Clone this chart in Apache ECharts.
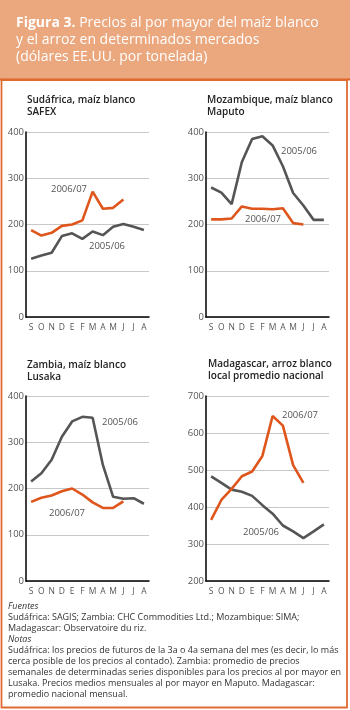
<!DOCTYPE html>
<html><head><meta charset="utf-8">
<script src="https://cdn.jsdelivr.net/npm/echarts@6/dist/echarts.min.js"></script>
<style>html,body{margin:0;padding:0;background:#fff}#c{width:350px;height:710px}</style>
</head><body><div id="c"></div>
<script>
const months = ['S','O','N','D','E','F','M','A','M','J','J','A'];
const yTicksMaize = [0,100,200,300,400];
const yTicksRice = [200,300,400,500,600,700];

const saf0506 = [126,133,139,175,181,169,185,177,195,201,195,188];
const saf0607 = [188,176,182,197,200,209,271,234,236,254];
const moz0506 = [280,269,244,335,385,391,371,326,268,241,210,210];
const moz0607 = [211,211,213,239,234,234,233,235,203,200];
const zam0506 = [215,233,262,312,345,355,353,251,182,178,179,167];
const zam0607 = [171,180,185,194,200,187,170,158,158,172];
const mad0506 = [483,465,447,441,430,405,382,350,334,316,334,353];
const mad0607 = [365,419,449,483,496,538,646,620,513,465];

const panelTitles = [
  ['Sudáfrica, maíz blanco','SAFEX'],
  ['Mozambique, maíz blanco','Maputo'],
  ['Zambia, maíz blanco','Lusaka'],
  ['Madagascar, arroz blanco','local promedio nacional']
];

const ORANGE = '#df561d', GREY = '#555555';
const FONT = '"Open Sans", "Noto Sans", sans-serif';

const grids = [
  {left:26, top:132, width:123, height:185},
  {left:206, top:132, width:123, height:185},
  {left:26, top:396, width:123, height:185},
  {left:206, top:396, width:123, height:185}
];
const yRanges = [
  {min:yTicksMaize[0], max:yTicksMaize[yTicksMaize.length-1]},
  {min:yTicksMaize[0], max:yTicksMaize[yTicksMaize.length-1]},
  {min:yTicksMaize[0], max:yTicksMaize[yTicksMaize.length-1]},
  {min:yTicksRice[0], max:yTicksRice[yTicksRice.length-1]}
];
const seriesData = [[saf0506,saf0607],[moz0506,moz0607],[zam0506,zam0607],[mad0506,mad0607]];

const xAxis = grids.map((g,i)=>({
  type:'category', gridIndex:i, data:months, boundaryGap:true,
  axisLine:{lineStyle:{color:'#000',width:1.5}},
  axisTick:{inside:true, alignWithLabel:true, length:4, lineStyle:{color:'#000',width:1.2}},
  axisLabel:{fontSize:8.5, color:'#555', margin:6, fontFamily:FONT, interval:0}
}));
const yAxis = grids.map((g,i)=>({
  type:'value', gridIndex:i, min:yRanges[i].min, max:yRanges[i].max, interval:100,
  axisLine:{show:true, lineStyle:{color:'#000',width:1.5}},
  axisTick:{show:false},
  splitLine:{lineStyle:{color:'#c8c8c8',width:1}},
  axisLabel:{fontSize:9.5, color:'#555', margin:2, fontFamily:FONT}
}));
const series = [];
seriesData.forEach((pair,i)=>{
  series.push({type:'line', xAxisIndex:i, yAxisIndex:i, data:pair[0], symbol:'none',
    lineStyle:{color:GREY,width:2.6}, z:3, silent:true});
  series.push({type:'line', xAxisIndex:i, yAxisIndex:i, data:pair[1], symbol:'none',
    lineStyle:{color:ORANGE,width:2.6}, z:4, silent:true});
});

const graphic = [
  {type:'rect', shape:{x:0,y:0,width:350,height:79}, style:{fill:'#eba77d'}, z:0},
  {type:'rect', shape:{x:0,y:78.5,width:350,height:2}, style:{fill:'#df6128'}, z:1},
  {type:'rect', shape:{x:1.5,y:80,width:345.5,height:627.5}, style:{fill:'none',stroke:'#e06a30',lineWidth:1.8}, z:1},
  {type:'text', x:16, y:15, z:5, style:{
    text:'{b|Figura 3.} Precios al por mayor del maíz blanco\ny el arroz en determinados mercados\n(dólares EE.UU. por tonelada)',
    fill:'#fff', font:'14px '+FONT, lineHeight:16.8,
    rich:{b:{fontWeight:'bold', fill:'#fff', fontSize:14, fontFamily:FONT}}
  }}
];
const titlePos = [[27,94],[207,94],[27,359],[208,358]];
panelTitles.forEach((t,i)=>{
  graphic.push({type:'text', x:titlePos[i][0], y:titlePos[i][1], z:5, style:{
    text:t.join('\n'), fill:'#222', font:'600 10px '+FONT, lineHeight:12}});
});
const seriesLabels = [
  ['2006/07',69,189],['2005/06',107,246],
  ['2005/06',299,151],['2006/07',263,219],
  ['2005/06',120,422],['2006/07',67,513],
  ['2006/07',300,415],['2005/06',261,532]
];
seriesLabels.forEach(l=>{
  graphic.push({type:'text', x:l[1], y:l[2], z:5, style:{text:l[0], fill:'#555',
    font:'9.5px '+FONT, textAlign:'center', textVerticalAlign:'middle'}});
});
const footer = [
  ['Fuentes',true],
  ['Sudáfrica: SAGIS; Zambia: CHC Commodities Ltd.; Mozambique: SIMA;',false],
  ['Madagascar: Observatoire du riz.',false],
  ['Notas',true],
  ['Sudáfrica: los precios de futuros de la 3a o 4a semana del mes (es decir, lo más',false],
  ['cerca posible de los precios al contado). Zambia: promedio de precios',false],
  ['semanales de determinadas series disponibles para los precios al por mayor en',false],
  ['Lusaka. Precios medios mensuales al por mayor en Maputo. Madagascar:',false],
  ['promedio nacional mensual.',false]
];
footer.forEach((f,i)=>{
  graphic.push({type:'text', x:8, y:606+i*11.1, z:5, style:{text:f[0], fill:'#333',
    font:(f[1]?'italic ':'')+'9px '+FONT, textVerticalAlign:'middle'}});
});

const chart = echarts.init(document.getElementById('c'), null, {renderer:'canvas'});
chart.setOption({animation:false, grid:grids, xAxis, yAxis, series, graphic});
</script></body></html>
